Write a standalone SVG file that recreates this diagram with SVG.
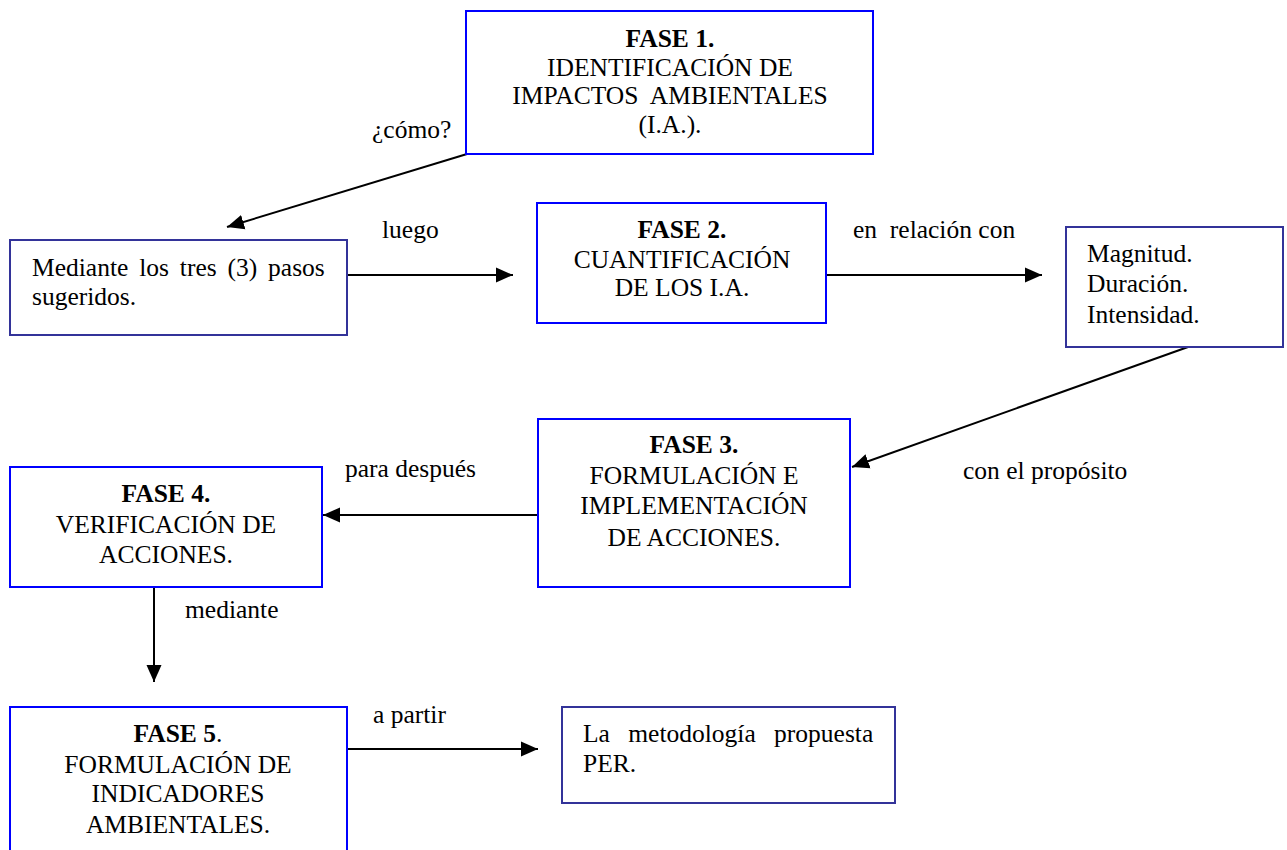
<svg xmlns="http://www.w3.org/2000/svg" width="1287" height="850" viewBox="0 0 1287 850" font-family="'Liberation Serif', Tinos, 'Times New Roman', 'DejaVu Serif', serif">
<style>
text{font-family:'Liberation Serif', Tinos, 'Times New Roman', 'DejaVu Serif', serif;font-size:25.5px;fill:#000;white-space:pre}
.c{text-anchor:middle}
.b{font-weight:bold}
.fase{fill:#fff;stroke:#0000ff;stroke-width:2}
.note{fill:#fff;stroke:#333399;stroke-width:2}
.con{stroke:#000;stroke-width:2;fill:none;marker-end:url(#ah)}
</style>
<defs>
<marker id="ah" markerUnits="userSpaceOnUse" markerWidth="18" markerHeight="18" viewBox="0 0 18 18" refX="17" refY="9" orient="auto">
<path d="M0,1.5 L17,9 L0,16.5 Z" fill="#000"/>
</marker>
</defs>
<rect width="1287" height="850" fill="#fff"/>
<g id="connectors">
<line class="con" x1="467" y1="154" x2="227" y2="227"/>
<line class="con" x1="347" y1="275" x2="513" y2="275"/>
<line class="con" x1="826" y1="275" x2="1042" y2="275"/>
<line class="con" x1="1188" y1="347" x2="852" y2="467"/>
<line class="con" x1="538" y1="515" x2="323" y2="515"/>
<line class="con" x1="154" y1="587" x2="154" y2="682"/>
<line class="con" x1="347" y1="749" x2="538" y2="749"/>
<text x="372" y="138">¿cómo?</text>
<text x="382" y="238">luego</text>
<text x="853" y="238">en  relación con</text>
<text x="963" y="479">con el propósito</text>
<text x="345" y="477">para después</text>
<text x="185" y="618">mediante</text>
<text x="373" y="723">a partir</text>
</g>
<g id="fase1">
<rect class="fase" x="466" y="11" width="407" height="143"/>
<text class="c" x="670"><tspan class="b" x="670" y="47">FASE 1.</tspan><tspan x="670" y="76">IDENTIFICACIÓN DE</tspan><tspan x="670" y="104">IMPACTOS  AMBIENTALES</tspan><tspan x="670" y="133">(I.A.).</tspan></text>
</g>
<g id="mediante">
<rect class="note" x="10" y="240" width="337" height="95"/>
<text x="32" y="276" style="word-spacing:4.5px">Mediante los tres (3) pasos</text>
<text x="32" y="305">sugeridos.</text>
</g>
<g id="fase2">
<rect class="fase" x="537" y="203" width="289" height="120"/>
<text class="c" x="682"><tspan class="b" x="682" y="238">FASE 2.</tspan><tspan x="682" y="268">CUANTIFICACIÓN</tspan><tspan x="682" y="296">DE LOS I.A.</tspan></text>
</g>
<g id="criterios">
<rect class="note" x="1066" y="227" width="217" height="120"/>
<text x="1087" y="262">Magnitud.</text>
<text x="1087" y="292">Duración.</text>
<text x="1087" y="323">Intensidad.</text>
</g>
<g id="fase3">
<rect class="fase" x="538" y="419" width="312" height="168"/>
<text class="c" x="694"><tspan class="b" x="694" y="453">FASE 3.</tspan><tspan x="694" y="484">FORMULACIÓN E</tspan><tspan x="694" y="514">IMPLEMENTACIÓN</tspan><tspan x="694" y="546">DE ACCIONES.</tspan></text>
</g>
<g id="fase4">
<rect class="fase" x="10" y="467" width="312" height="120"/>
<text class="c" x="166"><tspan class="b" x="166" y="502">FASE 4.</tspan><tspan x="166" y="533">VERIFICACIÓN DE</tspan><tspan x="166" y="563">ACCIONES.</tspan></text>
</g>
<g id="fase5">
<rect class="fase" x="10" y="707" width="337" height="150"/>
<text class="c" x="178"><tspan x="178" y="742"><tspan class="b">FASE 5</tspan>.</tspan><tspan x="178" y="773">FORMULACIÓN DE</tspan><tspan x="178" y="802">INDICADORES</tspan><tspan x="178" y="833">AMBIENTALES.</tspan></text>
</g>
<g id="per">
<rect class="note" x="562" y="707" width="333" height="96"/>
<text x="583" y="742" style="word-spacing:12px">La metodología propuesta</text>
<text x="583" y="772">PER.</text>
</g>
</svg>
